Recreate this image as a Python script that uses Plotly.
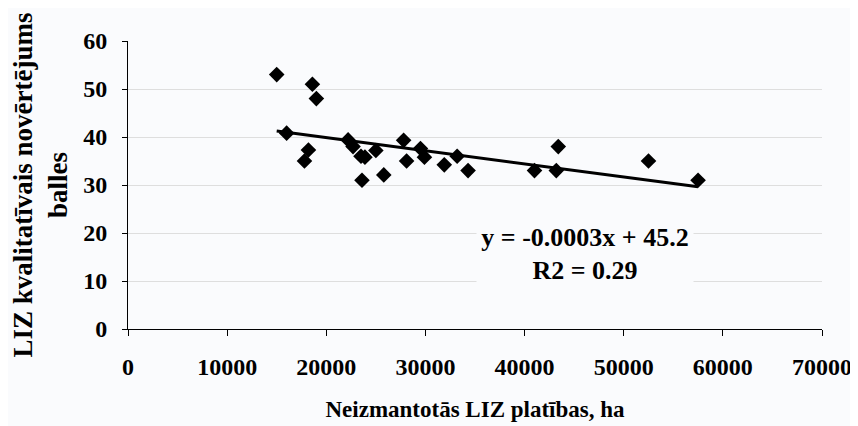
import numpy as np
import plotly.graph_objects as go

# Data
area_ha = [15000, 16000, 17800, 18200, 18600, 19000, 22200, 22700, 23500, 23600,
           23900, 25000, 25800, 27800, 28100, 29500, 29900, 31900, 33200, 34300,
           41000, 43200, 43400, 52500, 57500]
score = [53, 40.8, 35, 37.3, 51, 48, 39.4, 38, 36, 31,
         35.8, 37.2, 32.1, 39.3, 35, 37.6, 35.8, 34.2, 36, 33,
         33, 33, 38, 35, 31]

x_ticks = [0, 10000, 20000, 30000, 40000, 50000, 60000, 70000]
y_ticks = [0, 10, 20, 30, 40, 50, 60]

eq_text = "y = -0.0003x + 45.2"
r2_text = "R2 = 0.29"
x_title = "Neizmantotās LIZ platības, ha"
y_title = "LIZ kvalitatīvais novērtējums<br>balles"

BG = "#fafbfd"
FONT = "Liberation Serif"

# Linear trend line (least squares) over the data range
slope, intercept = np.polyfit(area_ha, score, 1)
trend_x = [min(area_ha), max(area_ha)]
trend_y = [slope * v + intercept for v in trend_x]

fig = go.Figure()
fig.add_trace(go.Scatter(
    x=area_ha, y=score, mode="markers",
    marker=dict(symbol="diamond", size=12, color="black"),
    showlegend=False,
))
fig.add_trace(go.Scatter(
    x=trend_x, y=trend_y, mode="lines",
    line=dict(color="black", width=3),
    showlegend=False,
))

fig.add_annotation(
    x=46100, y=15.7, xref="x", yref="y",
    text=eq_text + "<br>" + r2_text,
    showarrow=False, align="center",
    font=dict(family=FONT, size=26, color="black", weight="bold"),
    bgcolor=BG, width=214, height=68,
)

# The page body adds an 8 px offset, so the figure is 8 px smaller and margins compensate
fig.update_layout(
    width=850, height=418,
    margin=dict(l=120, r=36, t=33, b=97),
    paper_bgcolor=BG, plot_bgcolor=BG,
    font=dict(family=FONT, color="black", size=24, weight="bold"),
    xaxis=dict(
        range=[0, 70000], tickvals=x_ticks, ticktext=[str(v) for v in x_ticks],
        showgrid=False, zeroline=False, automargin=False,
        showline=True, linecolor="black", linewidth=1,
        ticks="outside", ticklen=6, tickcolor="black",
        ticklabelstandoff=10,
        tickfont=dict(family=FONT, size=24, weight="bold"),
        title=dict(text=x_title, font=dict(family=FONT, size=23, weight="bold"), standoff=22),
    ),
    yaxis=dict(
        range=[0, 60], tickvals=y_ticks, ticktext=[str(v) for v in y_ticks],
        showgrid=True, gridcolor="#dedede", gridwidth=1, zeroline=False, automargin=False,
        showline=True, linecolor="black", linewidth=1,
        ticks="outside", ticklen=5, tickcolor="black",
        ticklabelstandoff=10,
        tickfont=dict(family=FONT, size=24, weight="bold"),
        title=dict(text=y_title, font=dict(family=FONT, size=27, weight="bold"), standoff=15),
    ),
)

fig.write_html("out.html")
